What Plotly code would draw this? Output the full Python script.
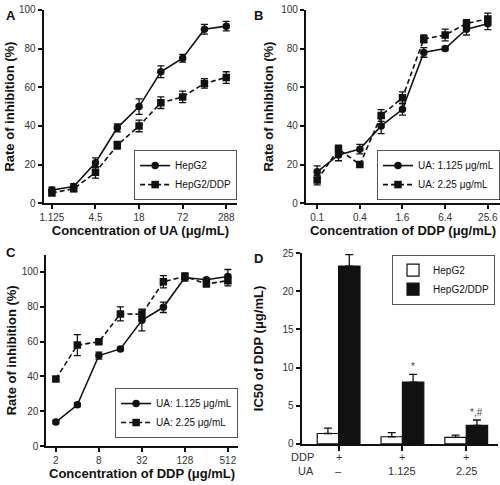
import plotly.graph_objects as go

# ---------------- Data ----------------
# Panel A
conc_ua = [1.125, 2.25, 4.5, 9, 18, 36, 72, 144, 288]
a_hepg2 = [6.9, 8.7, 21, 39, 50, 68, 75, 90, 91.6]
a_hepg2_err = [1.5, 1.5, 2.5, 2, 4, 3, 2, 2.5, 2.5]
a_hepg2ddp = [5.4, 7.5, 16, 30, 40, 52, 55, 62, 65]
a_hepg2ddp_err = [1.5, 1.5, 3, 2, 3, 3, 3, 2.5, 3]
a_tickvals = [1.125, 4.5, 18, 72, 288]
a_ticktext = ["1.125", "4.5", "18", "72", "288"]

# Panel B
conc_b = [0.1, 0.2, 0.4, 0.8, 1.6, 3.2, 6.4, 12.8, 25.6]
b_ua1 = [16.3, 25, 28, 40, 48.6, 78, 80, 90, 92.8]
b_ua1_err = [3, 3, 2.5, 4, 3, 2.5, 1, 3, 3]
b_ua2 = [12, 28, 20, 45.4, 54.6, 85, 87, 93, 95.3]
b_ua2_err = [2.5, 2, 0.5, 3, 3, 2, 3, 2, 3]
b_tickvals = [0.1, 0.4, 1.6, 6.4, 25.6]
b_ticktext = ["0.1", "0.4", "1.6", "6.4", "25.6"]

# Panel C
conc_c = [2, 4, 8, 16, 32, 64, 128, 256, 512]
c_ua1 = [13.8, 23.7, 52, 55.8, 72.2, 79.7, 96.8, 95.5, 97.4]
c_ua1_err = [1, 1, 2, 1, 6, 3, 2, 1, 4]
c_ua2 = [38.6, 58, 59.9, 75.9, 75.7, 94.4, 97.4, 93.1, 95]
c_ua2_err = [1, 6, 1, 4, 3, 3.5, 2, 1, 3]
c_tickvals = [2, 8, 32, 128, 512]
c_ticktext = ["2", "8", "32", "128", "512"]

# Panel D
d_groups = [0, 1, 2]
row_labels = ["DDP", "UA"]
ddp_row = ["+", "+", "+"]
ua_row = ["\u2013", "1.125", "2.25"]
d_hepg2 = [1.36, 0.94, 0.85]
d_hepg2_err = [0.7, 0.55, 0.3]
d_hepg2ddp = [23.3, 8.1, 2.43]
d_hepg2ddp_err = [1.5, 1.0, 0.7]
d_marks = ["", "*", "*,#"]

# ---------------- Styling ----------------
FONT = "Arial, Liberation Sans, Helvetica, sans-serif"
INK = "#111111"
TICKC = "#333333"
DASH = "5px,3px"

fig = go.Figure()


def add_line(x, y, err, name, dash, symbol, xa, ya, legend):
    fig.add_trace(go.Scatter(
        x=x, y=y, name=name, mode="lines+markers",
        line=dict(color=INK, width=1.6, dash=dash),
        marker=dict(symbol=symbol, size=7.5, color=INK),
        error_y=dict(type="data", array=err, visible=True, color=INK, thickness=1.3, width=3.5),
        xaxis=xa, yaxis=ya, legend=legend,
    ))


add_line(conc_ua, a_hepg2, a_hepg2_err, "HepG2", "solid", "circle", "x", "y", "legend")
add_line(conc_ua, a_hepg2ddp, a_hepg2ddp_err, "HepG2/DDP", DASH, "square", "x", "y", "legend")
add_line(conc_b, b_ua1, b_ua1_err, "UA: 1.125 \u03bcg/mL", "solid", "circle", "x2", "y2", "legend2")
add_line(conc_b, b_ua2, b_ua2_err, "UA: 2.25 \u03bcg/mL", DASH, "square", "x2", "y2", "legend2")
add_line(conc_c, c_ua1, c_ua1_err, "UA: 1.125 \u03bcg/mL", "solid", "circle", "x3", "y3", "legend3")
add_line(conc_c, c_ua2, c_ua2_err, "UA: 2.25 \u03bcg/mL", DASH, "square", "x3", "y3", "legend3")

fig.add_trace(go.Bar(
    x=d_groups, y=d_hepg2, name="HepG2",
    marker=dict(color="white", line=dict(color=INK, width=1.2)),
    error_y=dict(type="data", symmetric=False, array=d_hepg2_err, arrayminus=[0, 0, 0],
                 color=INK, thickness=1.3, width=4),
    xaxis="x4", yaxis="y4", legend="legend4",
))
fig.add_trace(go.Bar(
    x=d_groups, y=d_hepg2ddp, name="HepG2/DDP",
    marker=dict(color=INK, line=dict(color=INK, width=1.2)),
    error_y=dict(type="data", symmetric=False, array=d_hepg2ddp_err, arrayminus=[0, 0, 0],
                 color=INK, thickness=1.3, width=4),
    xaxis="x4", yaxis="y4", legend="legend4",
))

axis_common = dict(
    showline=True, linewidth=2, linecolor=INK, ticks="outside", ticklen=4,
    tickwidth=2, tickcolor=INK, showgrid=False, zeroline=False,
    tickfont=dict(family=FONT, size=10, color=TICKC),
)
title_font = dict(family=FONT, size=13, color=INK)


def xtitle(t):
    return dict(text="<b>" + t + "</b>", font=title_font, standoff=3)


def ytitle(t, s=2):
    return dict(text="<b>" + t + "</b>", font=title_font, standoff=s)


fig.update_layout(
    width=500, height=485,
    margin=dict(l=0, r=0, t=0, b=0),
    paper_bgcolor="white", plot_bgcolor="white",
    font=dict(family=FONT, color=INK),
    barmode="group", bargap=0.33, bargroupgap=0,
    xaxis=dict(axis_common, domain=[0.08, 0.47], anchor="y", type="log",
               range=[-0.0626, 2.610], tickmode="array", tickvals=a_tickvals,
               ticktext=a_ticktext, title=xtitle("Concentration of UA (\u03bcg/mL)")),
    yaxis=dict(axis_common, domain=[0.5829, 0.9918], anchor="x", range=[0, 100],
               tickmode="array", tickvals=[0, 20, 40, 60, 80, 100],
               title=ytitle("Rate of inhibition (%)", 1)),
    xaxis2=dict(axis_common, domain=[0.6086, 1.0], anchor="y2", type="log",
                range=[-1.1596, 1.5804], tickmode="array", tickvals=b_tickvals,
                ticktext=b_ticktext, title=xtitle("Concentration of DDP (\u03bcg/mL)")),
    yaxis2=dict(axis_common, domain=[0.5829, 0.9918], anchor="x2", range=[0, 100],
                tickmode="array", tickvals=[0, 20, 40, 60, 80, 100],
                title=ytitle("Rate of inhibition (%)", 5)),
    xaxis3=dict(axis_common, domain=[0.0854, 0.4714], anchor="y3", type="log",
                range=[0.1677, 2.8482], tickmode="array", tickvals=c_tickvals,
                ticktext=c_ticktext, title=xtitle("Concentration of DDP (\u03bcg/mL)")),
    yaxis3=dict(axis_common, domain=[0.0695, 0.4746], anchor="x3", range=[0, 110],
                tickmode="array", tickvals=[0, 20, 40, 60, 80, 100],
                title=ytitle("Rate of inhibition (%)", 2)),
    xaxis4=dict(axis_common, domain=[0.6, 0.996], anchor="y4", range=[-0.58, 2.498],
                tickmode="array", tickvals=d_groups, showticklabels=False, ticklen=5),
    yaxis4=dict(axis_common, domain=[0.0742, 0.4777], anchor="x4", range=[0, 25],
                tickmode="array", tickvals=[0, 5, 10, 15, 20, 25],
                title=ytitle("IC50 of DDP (\u03bcg/mL)", 16)),
)

legend_common = dict(
    bgcolor="white", bordercolor="#555555", borderwidth=1,
    font=dict(family=FONT, size=10, color=INK), tracegroupgap=0,
)
fig.update_layout(
    legend=dict(legend_common, x=235 / 500, xanchor="right", y=1 - 199 / 485, yanchor="bottom"),
    legend2=dict(legend_common, x=1.0, xanchor="right", y=1 - 199 / 485, yanchor="bottom"),
    legend3=dict(legend_common, x=236 / 500, xanchor="right", y=1 - 443 / 485, yanchor="bottom"),
    legend4=dict(legend_common, x=495 / 500, xanchor="right", y=1 - 255 / 485, yanchor="top"),
)

annotations = []
for letter, px, py in [("A", 0, 0), ("B", 250, 0), ("C", 0, 243), ("D", 250, 249)]:
    annotations.append(dict(
        text="<b>" + letter + "</b>", x=px / 500, y=1 - py / 485, xref="paper", yref="paper",
        xanchor="left", yanchor="top", showarrow=False,
        font=dict(family=FONT, size=13, color=INK)))

# treatment table under panel D (row headers + one entry per group, on the group ticks)
ROW_Y = [1 - 462 / 485, 1 - 477 / 485]
lab_font = dict(family=FONT, size=11, color=TICKC)
for ry, head, row in zip(ROW_Y, row_labels, [ddp_row, ua_row]):
    annotations.append(dict(text=head, x=315 / 500, y=ry, xref="paper", yref="paper",
                            xanchor="right", yanchor="middle", showarrow=False, font=lab_font))
    for g, t in zip(d_groups, row):
        annotations.append(dict(text=t, x=g, y=ry, xref="x4", yref="paper",
                                xanchor="center", yanchor="middle", showarrow=False, font=lab_font))

# significance marks above the HepG2/DDP bars
bar_offset = (1 - 0.33) / 4
for g, v, e, m in zip(d_groups, d_hepg2ddp, d_hepg2ddp_err, d_marks):
    if m:
        annotations.append(dict(text=m, x=g + bar_offset, y=v + e, xref="x4", yref="y4",
                                xanchor="center", yanchor="bottom", yshift=0, showarrow=False,
                                font=dict(family=FONT, size=10, color="#444444")))

fig.update_layout(annotations=annotations)

fig.write_html("out.html", config={"displayModeBar": False},
               post_script="document.body.style.margin='0';")
